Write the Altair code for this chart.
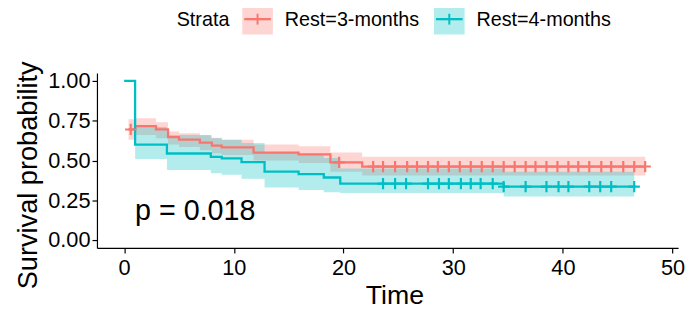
import altair as alt
import pandas as pd

FONT = "Liberation Sans"
RED = "#F8766D"
TEAL = "#00BFC4"

# ---- Rest=3-months (step function) ----
r_time = [0.4, 1.0, 2.9, 4.0, 5.0, 6.9, 8.0, 8.9, 11.8, 15.9, 18.8, 21.7, 47.5]
r_surv = [0.695, 0.716, 0.695, 0.647, 0.631, 0.612, 0.594, 0.583, 0.55, 0.538, 0.488, 0.462, 0.462]
r_upper = [0.76, 0.765, 0.74, 0.683, 0.672, 0.658, 0.643, 0.63, 0.60, 0.59, 0.55, 0.523, 0.523]
r_lower = [0.63, 0.66, 0.64, 0.60, 0.585, 0.565, 0.545, 0.535, 0.50, 0.485, 0.43, 0.405, 0.405]
r_censor = [0.6, 19.6, 22.7, 23.6, 24.7, 25.8, 26.7, 27.7, 28.6, 29.6, 30.6, 31.6, 32.6,
            33.6, 34.6, 35.6, 36.6, 37.5, 38.5, 39.5, 40.5, 41.4, 42.4, 43.5, 44.4,
            45.5, 46.5, 47.5]

# ---- Rest=4-months (step function) ----
t_time = [0.0, 1.0, 3.9, 7.9, 8.9, 10.7, 12.8, 15.9, 18.2, 19.7, 34.6, 46.5]
t_surv = [1.0, 0.60, 0.544, 0.523, 0.513, 0.49, 0.43, 0.415, 0.393, 0.355, 0.336, 0.336]
t_upper = [1.0, 0.71, 0.66, 0.64, 0.63, 0.61, 0.55, 0.535, 0.515, 0.45, 0.43, 0.43]
t_lower = [1.0, 0.51, 0.44, 0.42, 0.41, 0.385, 0.33, 0.315, 0.30, 0.295, 0.274, 0.274]
t_censor = [23.6, 24.7, 25.7, 27.7, 28.7, 29.6, 30.7, 31.6, 32.5, 33.6, 34.6, 36.6,
            38.5, 39.6, 40.5, 42.4, 43.4, 44.4, 46.5]

strata = ["Rest=3-months", "Rest=4-months"]
colors = [RED, TEAL]
p_label = "p = 0.018"

curves = pd.concat([
    pd.DataFrame({"time": r_time, "surv": r_surv, "upper": r_upper, "lower": r_lower, "strata": strata[0]}),
    pd.DataFrame({"time": t_time, "surv": t_surv, "upper": t_upper, "lower": t_lower, "strata": strata[1]}),
], ignore_index=True)


def step_value(times, vals, t):
    v = vals[0]
    for ti, vi in zip(times, vals):
        if ti <= t:
            v = vi
    return v


cens = pd.concat([
    pd.DataFrame({"time": r_censor, "surv": [step_value(r_time, r_surv, c) for c in r_censor], "strata": strata[0]}),
    pd.DataFrame({"time": t_censor, "surv": [step_value(t_time, t_surv, c) for c in t_censor], "strata": strata[1]}),
], ignore_index=True)

xscale = alt.Scale(domain=[-2.48, 50.5], nice=False, zero=False)
yscale = alt.Scale(domain=[-0.05, 1.05], nice=False, zero=False)
cscale = alt.Scale(domain=strata, range=colors)

xaxis = alt.Axis(values=[0, 10, 20, 30, 40, 50], title="Time", grid=False,
                 labelPadding=5, titlePadding=4, titleFontSize=27, titleX=301)
yaxis = alt.Axis(values=[0, 0.25, 0.5, 0.75, 1.0], format=".2f", title="Survival probability",
                 grid=False, titleFontSize=27.5, titleX=-55, titleY=103)

base = alt.Chart(curves)

bands = base.mark_area(interpolate="step-after", opacity=0.3).encode(
    x=alt.X("time:Q", scale=xscale, axis=xaxis),
    y=alt.Y("lower:Q", scale=yscale, axis=yaxis),
    y2="upper:Q",
    fill=alt.Fill("strata:N", scale=cscale, legend=None),
    detail="strata:N",
)

lines = base.mark_line(interpolate="step-after", strokeWidth=2.3).encode(
    x=alt.X("time:Q", scale=xscale),
    y=alt.Y("surv:Q", scale=yscale),
    color=alt.Color("strata:N", scale=cscale, legend=None),
)

ticks = alt.Chart(cens).mark_point(
    shape="M-1,0H1M0,-1V1", size=130, filled=False, strokeWidth=2.2, opacity=1
).encode(
    x=alt.X("time:Q", scale=xscale),
    y=alt.Y("surv:Q", scale=yscale),
    color=alt.Color("strata:N", scale=cscale, legend=None),
)

pval = alt.Chart(pd.DataFrame({"x": [1.0], "y": [0.18], "label": [p_label]})).mark_text(
    align="left", baseline="middle", fontSize=29, font=FONT, color="black"
).encode(
    x=alt.X("x:Q", scale=xscale), y=alt.Y("y:Q", scale=yscale), text="label:N"
)

# ---- manual legend (top) ----
one = pd.DataFrame({"a": [0]})
leg_layers = [
    alt.Chart(one).mark_text(align="right", baseline="middle", fontSize=20, font=FONT, color="black").encode(
        x=alt.value(134), y=alt.value(-54), text=alt.value("Strata")),
]
for i, (name, col) in enumerate(zip(strata, colors)):
    x0 = 147 + i * 194
    leg_layers += [
        alt.Chart(one).mark_rect(color=col, opacity=0.3).encode(
            x=alt.value(x0), x2=alt.value(x0 + 31), y=alt.value(-70), y2=alt.value(-39)),
        alt.Chart(one).mark_rule(color=col, strokeWidth=2.3).encode(
            x=alt.value(x0 + 2), x2=alt.value(x0 + 29), y=alt.value(-54.5)),
        alt.Chart(one).mark_rule(color=col, strokeWidth=2).encode(
            x=alt.value(x0 + 15.5), y=alt.value(-60), y2=alt.value(-49)),
        alt.Chart(one).mark_text(align="left", baseline="middle", fontSize=20, font=FONT, color="black").encode(
            x=alt.value(x0 + 43), y=alt.value(-54), text=alt.value(name)),
    ]

chart = alt.layer(bands, lines, ticks, pval, *leg_layers).properties(
    width=588, height=177,
    autosize=alt.AutoSizeParams(type="none"),
    padding={"left": 90, "top": 64, "right": 8, "bottom": 63},
).configure_view(stroke=None).configure_axis(
    labelFont=FONT, titleFont=FONT, labelFontSize=22, titleFontSize=26,
    labelColor="black", titleColor="black", titleFontWeight="normal",
    domainColor="black", domainWidth=1.2, tickColor="black", tickSize=5, tickWidth=1.2,
)

chart.save("out.html", embed_options={"renderer": "svg", "actions": False})
